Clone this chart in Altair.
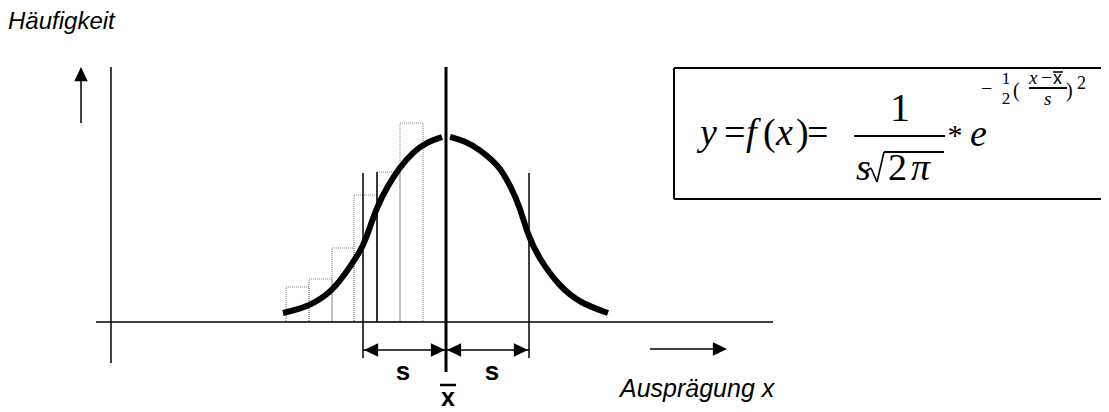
import altair as alt
import pandas as pd

# ---------------- data (diagram units: x = Ausprägung, y = Häufigkeit, both in drawing units) ----------------
base_y = 322
# histogram classes: left edge, right edge, top of bar
hist_left = [286, 309, 332, 354, 377, 400]
hist_right = [309, 332, 354, 377, 400, 423]
hist_top = [287, 279, 248, 195, 172, 123]

# normal curve (left and right half, gap at the mean line)
curve_left_x = [283, 308, 332, 350, 363, 370, 377, 387, 400, 413, 427, 442]
curve_left_y = [313, 307, 292, 267, 247, 227, 207, 187, 167, 152, 142, 137]
curve_right_x = [450, 465, 480, 492, 500, 510, 520, 528, 540, 560, 580, 608]
curve_right_y = [137, 141, 150, 160, 168, 185, 207, 236, 260, 287, 303, 313]

mean_x = 446
s_left_x = 363
s_right_x = 529

X = lambda f="x": alt.X(f"{f}:Q", scale=alt.Scale(domain=[8, 1101], nice=False, zero=False), axis=None)
Y = lambda f="y": alt.Y(f"{f}:Q", scale=alt.Scale(domain=[412, 8], nice=False, zero=False), axis=None)


def rules(rows, **kw):
    df = pd.DataFrame(rows, columns=["x", "y", "x2", "y2"])
    return alt.Chart(df).mark_rule(color="black", **kw).encode(
        x=X(), y=Y(), x2="x2:Q", y2="y2:Q")


def texts(rows, **kw):
    df = pd.DataFrame(rows, columns=["x", "y", "t"])
    return alt.Chart(df).mark_text(color="black", baseline="alphabetic", **kw).encode(
        x=X(), y=Y(), text="t:N")


def heads(rows, path, size):
    df = pd.DataFrame(rows, columns=["x", "y"])
    return alt.Chart(df).mark_point(shape=path, size=size, filled=True, color="black",
                                    opacity=1, strokeWidth=0).encode(x=X(), y=Y())


hist_df = pd.DataFrame({"x": hist_left, "x2": hist_right, "y": hist_top, "y2": [base_y] * len(hist_left)})
hist = alt.Chart(hist_df).mark_rect(fillOpacity=0, stroke="#808080", strokeWidth=1,
                                    strokeDash=[1, 1]).encode(x=X(), x2="x2:Q", y=Y(), y2="y2:Q")

cl = pd.DataFrame({"x": curve_left_x, "y": curve_left_y})
cr = pd.DataFrame({"x": curve_right_x, "y": curve_right_y})
curve_l = alt.Chart(cl).mark_line(color="black", strokeWidth=6, interpolate="basis").encode(x=X(), y=Y())
curve_r = alt.Chart(cr).mark_line(color="black", strokeWidth=6, interpolate="basis").encode(x=X(), y=Y())

thin = rules([
    [111, 67, 111, 363],            # y axis
    [96, base_y, 773, base_y],      # x axis
    [s_left_x, 173, s_left_x, 358],
    [s_right_x, 173, s_right_x, 358],
    [377, 172, 377, base_y],
    [s_left_x, 350, mean_x, 350],
    [mean_x, 350, s_right_x, 350],
    [81, 123, 81, 78],              # up arrow shaft
    [650, 349, 715, 349],           # right arrow shaft
], strokeWidth=1.5)

mean_line = rules([[mean_x, 67, mean_x, 372]], strokeWidth=3)

box = rules([
    [674, 68, 1101, 68],
    [674, 199, 1101, 199],
    [674, 68, 674, 199],
], strokeWidth=2)

right_path = "M0,0L-2,-0.95L-2,0.95Z"
left_path = "M0,0L2,-0.95L2,0.95Z"
up_path = "M0,0L-0.95,2L0.95,2Z"
h_right = heads([[mean_x - 1, 350], [s_right_x - 1, 350], [727, 349]], right_path, 200)
h_left = heads([[s_left_x + 1, 350], [mean_x + 1, 350]], left_path, 200)
h_up = heads([[81, 67]], up_path, 200)

sans = "Liberation Sans"
serif = "Liberation Serif"

labels_it = texts([[8, 29, "Häufigkeit"]], font=sans, fontSize=24, fontStyle="italic", align="left")
label_x = texts([[620, 397, "Ausprägung x"]], font=sans, fontSize=25, fontStyle="italic", align="left")
s_labels = texts([[403, 380, "s"], [492, 380, "s"]], font=sans, fontSize=26, fontWeight="bold", align="center")
xbar = texts([[448, 406, "x"]], font=sans, fontSize=25, fontWeight="bold", align="center")
xbar_bar = rules([[440, 385, 456, 385]], strokeWidth=2.5)

# formula
f_it = texts([[700, 145, "y"], [746, 145, "f"], [776, 145, "x"], [856, 180, "s"], [911, 180, "π"],
              [970, 146, "e"]],
             font=serif, fontSize=38, fontStyle="italic", align="left")
f_rm = texts([[724, 145, "="], [763, 145, "("], [796, 145, ")"], [807, 145, "="],
              [888, 180, "2"]],
             font=serif, fontSize=38, align="left")
f_one = texts([[900, 121, "1"]], font=serif, fontSize=40, align="center")
f_star = texts([[955, 145, "*"]], font=serif, fontSize=30, align="center")
f_bars = rules([[854, 136, 945, 136], [884, 152, 944, 152], [1029, 88, 1067, 88]], strokeWidth=1.8)
radical = rules([[866, 171, 871, 168], [871, 168, 877, 182], [877, 182, 884, 152]], strokeWidth=1.6)
e_rm = texts([[981, 95, "−"], [1013, 97, "("], [1066, 97, ")"], [1041, 84, "−"]],
             font=serif, fontSize=20, align="left")
e_small = texts([[1006, 84, "1"], [1006, 104, "2"]], font=serif, fontSize=17, align="center")
e_sq = texts([[1077, 89, "2"]], font=serif, fontSize=18, align="left")
e_it = texts([[1029, 84, "x"], [1044, 105, "s"]], font=serif, fontSize=19, fontStyle="italic", align="left")
e_xb = texts([[1053, 84, "x"]], font=sans, fontSize=18, align="left")
e_xb_bar = rules([[1053, 72, 1063, 72]], strokeWidth=1.5)

chart = alt.layer(
    hist, thin, curve_l, curve_r, mean_line, box, h_right, h_left, h_up,
    labels_it, label_x, s_labels, xbar, xbar_bar,
    f_it, f_rm, f_one, f_star, f_bars, radical, e_rm, e_small, e_sq, e_it, e_xb, e_xb_bar,
).properties(width=1093, height=404, padding=0, autosize=alt.AutoSizeParams(type="none")
).configure_view(stroke=None)

chart.save("out.html", embed_options={"renderer": "svg", "actions": False})
